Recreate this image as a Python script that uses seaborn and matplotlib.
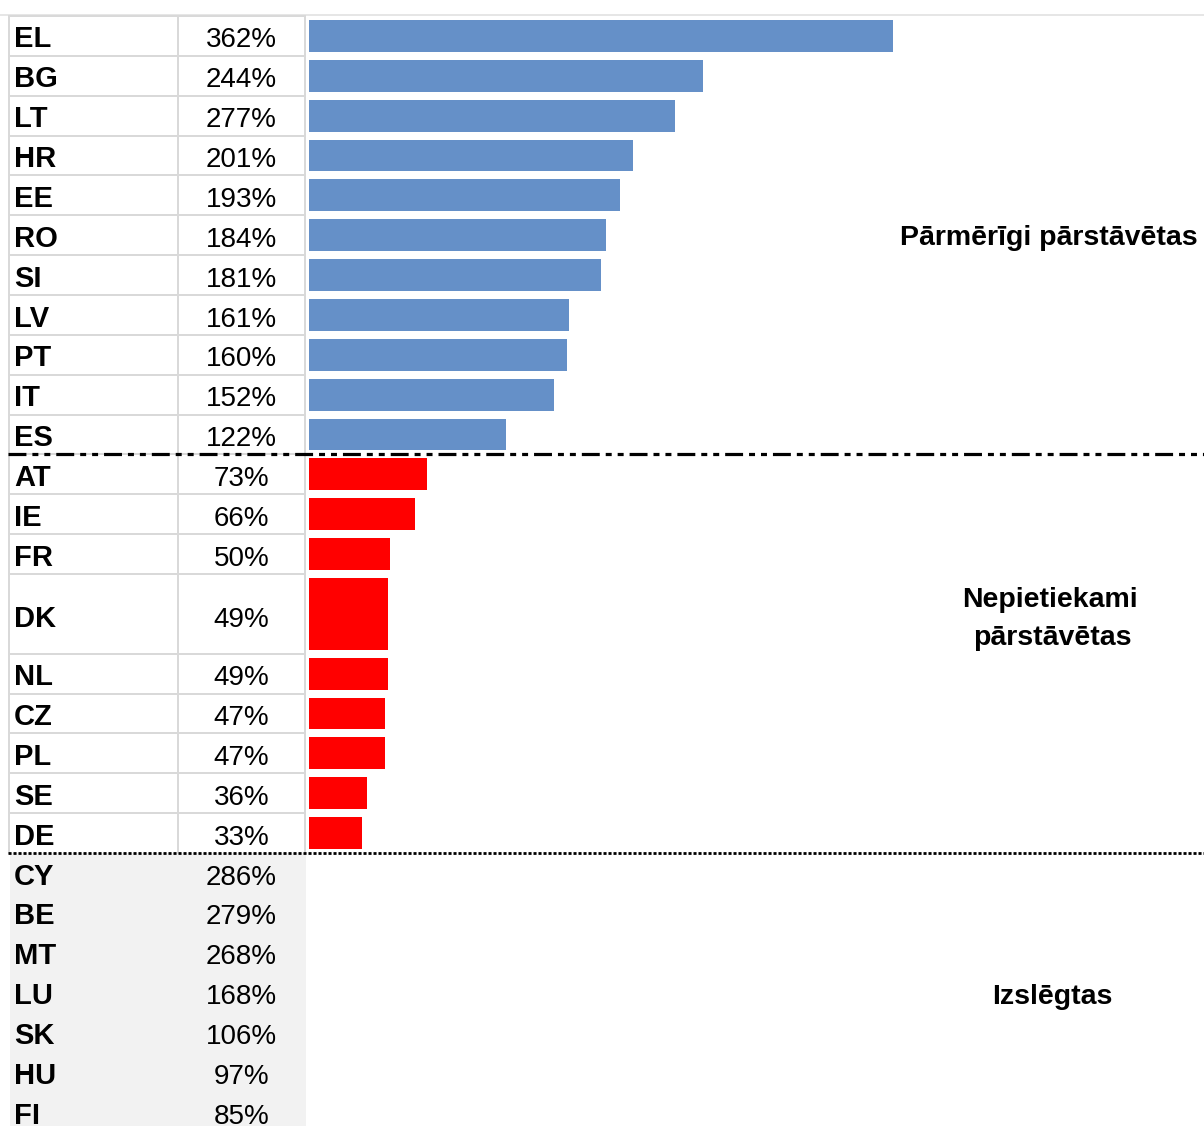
import numpy as np
import pandas as pd
import matplotlib
import matplotlib.pyplot as plt
import seaborn as sns

matplotlib.use("Agg")

# dati: valstis un procenti
codes_over = ['EL', 'BG', 'LT', 'HR', 'EE', 'RO', 'SI', 'LV', 'PT', 'IT', 'ES']
pct_over = [362, 244, 277, 201, 193, 184, 181, 161, 160, 152, 122]
bars_over = [362, 244, 227, 201, 193, 184, 181, 161, 160, 152, 122]  # LT stabiņš zīmēts īsāks

codes_under = ['AT', 'IE', 'FR', 'DK', 'NL', 'CZ', 'PL', 'SE', 'DE']
pct_under = [73, 66, 50, 49, 49, 47, 47, 36, 33]
bars_under = [73, 66, 50, 49, 49, 47, 47, 36, 33]

codes_excl = ['CY', 'BE', 'MT', 'LU', 'SK', 'HU', 'FI']
pct_excl = [286, 279, 268, 168, 106, 97, 85]

tall_rows = ['DK']  # divkārša augstuma rinda

group_labels = {'over': ['Pārmērīgi pārstāvētas'],
                'under': ['Nepietiekami', 'pārstāvētas'],
                'excl': ['Izslēgtas']}

BLUE = '#6590c8'
RED = '#ff0000'
GRID = '#d9d9d9'

# izkārtojums pikseļos
W, H = 1204, 1126
TOP_PX = 16
ROW_PX = 39.86
BAR_X0 = 309
PX_PER_PCT = 1.613
COL_X = [9, 178, 305]

sns.set_theme(style="white")
plt.rcParams['font.family'] = ['Liberation Sans', 'DejaVu Sans']
plt.rcParams['text.color'] = 'black'
plt.rcParams['lines.scale_dashes'] = False

codes = codes_over + codes_under + codes_excl
pcts = pct_over + pct_under + pct_excl
heights = np.array([2 if c in tall_rows else 1 for c in codes], dtype=float)
tops = np.concatenate([[0], np.cumsum(heights)[:-1]])
centers = tops + heights / 2

n_over = len(codes_over)
n_under = len(codes_under)
b_over = n_over
b_under = n_over + sum(heights[n_over:n_over + n_under])

y_top = -TOP_PX / ROW_PX
y_bot = (H - TOP_PX) / ROW_PX

fig = plt.figure(figsize=(W / 100, H / 100), dpi=100)
tab = fig.add_axes([0, 0, 1, 1])
tab.set_xlim(0, W)
tab.set_ylim(y_bot, y_top)
tab.axis('off')

# izslēgto valstu pelēkais fons
tab.fill_between([COL_X[0] + 1, COL_X[2] + 1], b_under, y_bot, color='#f2f2f2', lw=0, zorder=0)

# tabulas līnijas
tab.plot([0, W], [-1.0 / ROW_PX, -1.0 / ROW_PX], color='#e6e6e6', lw=1.4, zorder=1)
for t in tops[:n_over + n_under]:
    tab.plot([COL_X[0], COL_X[2]], [t, t], color=GRID, lw=1.44, zorder=1)
for xc in COL_X:
    tab.plot([xc, xc], [0, b_under], color=GRID, lw=1.44, zorder=1)

# atdalītājlīnijas
tab.plot([8, W], [b_over, b_over], color='black', lw=2.3,
         dashes=(12.9, 4.3, 4.3, 4.3, 4.3, 4.3), solid_capstyle='butt', zorder=3)
tab.plot([8, W], [b_under, b_under], color='black', lw=2.0,
         dashes=(2.2, 1.4), solid_capstyle='butt', zorder=3)

# teksti
for c, p, yc, h in zip(codes, pcts, centers, heights):
    yb = yc + 0.29 + (0.04 if h > 1 else 0)
    tab.text(14, yb, c, fontsize=21, fontweight='bold', color='black',
             ha='left', va='baseline', zorder=4)
    tab.text((COL_X[1] + COL_X[2]) / 2, yb, f'{p}%', fontsize=20, color='black',
             ha='center', va='baseline', zorder=4)

tab.text(900, (245 - TOP_PX) / ROW_PX, group_labels['over'][0], fontsize=20.5,
         fontweight='bold', color='black', ha='left', va='baseline')
tab.text(1050, (607 - TOP_PX) / ROW_PX, group_labels['under'][0], fontsize=20.5,
         fontweight='bold', color='black', ha='center', va='baseline')
tab.text(1052, (645 - TOP_PX) / ROW_PX, group_labels['under'][1], fontsize=20.5,
         fontweight='bold', color='black', ha='center', va='baseline')
tab.text(1052, (1004 - TOP_PX) / ROW_PX, group_labels['excl'][0], fontsize=20.5,
         fontweight='bold', color='black', ha='center', va='baseline')

# stabiņi
ax = fig.add_axes([BAR_X0 / W, 0, (W - BAR_X0) / W, 1])
ax.patch.set_alpha(0)
df = pd.DataFrame({
    'code': codes_over + codes_under,
    'value': bars_over + bars_under,
    'pos': centers[:n_over + n_under],
    'group': ['over'] * n_over + ['under'] * n_under,
})
sns.barplot(data=df, x='value', y='pos', hue='group', orient='h', native_scale=True,
            palette={'over': BLUE, 'under': RED}, width=0.8, dodge=False,
            saturation=1, errorbar=None, legend=False, linewidth=0, ax=ax)

# divkāršā rinda -> augstāks stabiņš
for code, h, yc in zip(codes, heights, centers):
    if h > 1:
        for patch in ax.patches:
            if abs(patch.get_y() + patch.get_height() / 2 - yc) < 1e-6:
                patch.set_y(yc - (h - 0.2) / 2)
                patch.set_height(h - 0.2)

ax.set_xlim(0, (W - BAR_X0) / PX_PER_PCT)
ax.set_ylim(y_bot, y_top)
ax.axis('off')

fig.savefig('out.png', dpi=100)
